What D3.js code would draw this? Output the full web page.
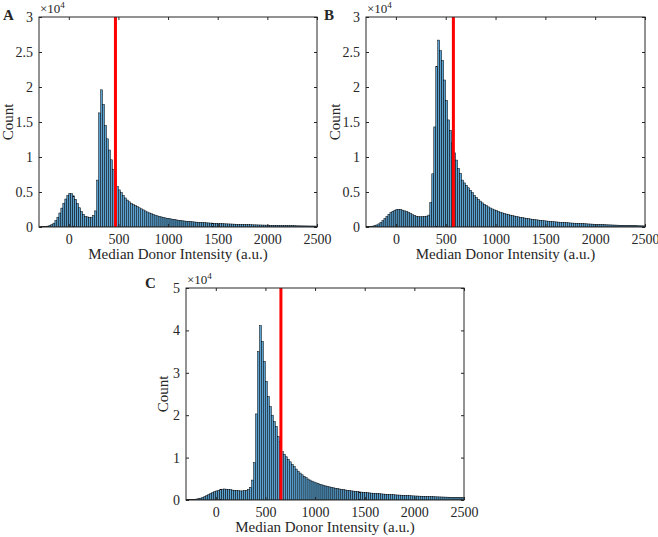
<!DOCTYPE html>
<html><head><meta charset="utf-8">
<script src="https://cdn.jsdelivr.net/npm/d3@7"></script>
<style>
body{margin:0;background:#fff}
svg{display:block}
text{font-family:"Liberation Serif","Times New Roman",serif;fill:#262626}
</style>
</head><body>
<svg id="chart" width="658" height="537"></svg>
<script>
// ---- data ----
const binWidth = 20;
const binLo = d3.range(-300, 2500, binWidth);   // bin lower edges
const xTicks = [0, 500, 1000, 1500, 2000, 2500];
const yTicksAB = [0, 5000, 10000, 15000, 20000, 25000, 30000];
const yTicksC = [0, 10000, 20000, 30000, 40000, 50000];
const panelLabels = ["A", "B", "C"];
const thresholds = [470, 577, 656];
const xTitle = "Median Donor Intensity (a.u.)";
const yTitle = "Count";

const countsA = [
 30, 40, 60, 90, 130, 200, 330, 550, 900, 1400,
 2000, 2700, 3400, 4000, 4500, 4800, 4750, 4450, 3950, 3350,
 2750, 2200, 1800, 1500, 1450, 1350, 1400, 1650, 2300, 6700,
 16300, 19600, 17500, 14500, 12600, 11000, 9600, 8200, 7000, 5800,
 5300, 4900, 4500, 4150, 3850, 3600, 3380, 3200, 3050, 2900,
 2750, 2600, 2450, 2300, 2150, 2020, 1900, 1800, 1700, 1600,
 1520, 1450, 1380, 1310, 1250, 1200, 1150, 1100, 1050, 1000,
 960, 920, 880, 850, 820, 790, 765, 740, 715, 690,
 670, 650, 630, 610, 595, 580, 565, 550, 535, 520,
 505, 490, 475, 460, 450, 440, 430, 420, 405, 395,
 385, 375, 365, 355, 345, 335, 325, 318, 310, 302,
 295, 288, 280, 272, 265, 258, 250, 243, 236, 230,
 224, 218, 212, 206, 200, 195, 190, 185, 180, 175,
 170, 165, 160, 156, 152, 148, 144, 140, 136, 132
];
const countsB = [
 40, 60, 90, 130, 200, 300, 450, 650, 900, 1200,
 1500, 1800, 2050, 2250, 2400, 2500, 2520, 2480, 2400, 2300,
 2180, 2050, 1900, 1750, 1620, 1520, 1470, 1460, 1480, 1500,
 1550, 1700, 3500, 7600, 14300, 22900, 26700, 25200, 23800, 21000,
 18100, 15300, 13800, 12000, 10600, 9560, 8370, 7660, 6700, 6300,
 5950, 5600, 5250, 4900, 4500, 4200, 3950, 3700, 3450, 3250,
 3050, 2880, 2720, 2580, 2450, 2330, 2220, 2120, 2020, 1930,
 1850, 1770, 1700, 1630, 1570, 1510, 1450, 1390, 1340, 1290,
 1240, 1190, 1150, 1110, 1070, 1030, 995, 960, 925, 890,
 860, 830, 800, 775, 750, 725, 700, 680, 660, 640,
 620, 600, 580, 560, 545, 530, 515, 500, 485, 470,
 455, 440, 425, 410, 395, 380, 368, 356, 344, 332,
 320, 310, 300, 290, 280, 270, 260, 250, 240, 232,
 224, 216, 208, 200, 192, 185, 178, 171, 164, 157
];
const countsC = [
 80, 90, 110, 140, 180, 240, 330, 450, 600, 800,
 1050, 1300, 1550, 1800, 2000, 2150, 2300, 2450, 2550, 2600,
 2550, 2500, 2450, 2350, 2300, 2250, 2200, 2150, 2150, 2200,
 2300, 2500, 3000, 4700, 8800, 20300, 35000, 41100, 37400, 32700,
 28000, 24400, 22000, 20000, 18500, 17300, 15000, 13800, 11400, 10800,
 10200, 9600, 9000, 8400, 7900, 7300, 6800, 6350, 5950, 5600,
 5250, 4950, 4700, 4450, 4250, 4050, 3880, 3720, 3570, 3430,
 3300, 3180, 3070, 2960, 2860, 2760, 2670, 2580, 2500, 2420,
 2350, 2280, 2210, 2150, 2090, 2030, 1970, 1910, 1860, 1810,
 1760, 1710, 1670, 1630, 1590, 1550, 1510, 1475, 1440, 1405,
 1370, 1335, 1300, 1270, 1240, 1210, 1185, 1160, 1135, 1110,
 1070, 1045, 1020, 995, 970, 950, 930, 910, 890, 870,
 850, 830, 810, 790, 775, 760, 745, 730, 715, 700,
 685, 670, 655, 640, 625, 610, 595, 580, 565, 550
];

// ---- layout ----
const panels = [
  {counts: countsA, yTicks: yTicksAB, left: 39,  right: 317, top: 17,  bottom: 227, yLabOff: 31, letterX: 3,   letterY: 20},
  {counts: countsB, yTicks: yTicksAB, left: 366, right: 645, top: 17,  bottom: 227, yLabOff: 31, letterX: 324, letterY: 20},
  {counts: countsC, yTicks: yTicksC,  left: 186, right: 464, top: 288, bottom: 500, yLabOff: 23, letterX: 145, letterY: 288}
];

const svg = d3.select("#chart");
const axisCol = "#262626";
const fs = 14;

panels.forEach((p, k) => {
  const x = d3.scaleLinear().domain([-300, 2500]).range([p.left, p.right]);
  const y = d3.scaleLinear().domain([0, d3.max(p.yTicks)]).range([p.bottom, p.top]);
  const g = svg.append("g");
  const clipId = "clip" + k;
  g.append("clipPath").attr("id", clipId).append("rect")
    .attr("x", p.left).attr("y", p.top).attr("width", p.right - p.left).attr("height", p.bottom - p.top);

  const bars = g.append("g").attr("clip-path", `url(#${clipId})`);
  bars.selectAll("rect").data(binLo).enter().append("rect")
    .attr("x", d => x(d))
    .attr("width", d => x(d + binWidth) - x(d))
    .attr("y", (d, i) => y(p.counts[i]))
    .attr("height", (d, i) => p.bottom - y(p.counts[i]))
    .attr("fill", "#5aa2d2")
    .attr("stroke", "#000")
    .attr("stroke-width", 0.5);

  // threshold line
  g.append("line")
    .attr("x1", x(thresholds[k])).attr("x2", x(thresholds[k]))
    .attr("y1", p.top).attr("y2", p.bottom)
    .attr("stroke", "#ff0000").attr("stroke-width", 3);

  // axes
  const fmtY = v => String(v / 1e4);
  const axB = g.append("g").attr("transform", `translate(0,${p.bottom})`)
    .call(d3.axisBottom(x).tickValues(xTicks).tickSize(-3).tickPadding(7).tickFormat(d3.format("d")));
  const axT = g.append("g").attr("transform", `translate(0,${p.top})`)
    .call(d3.axisTop(x).tickValues(xTicks).tickSize(-3).tickFormat(""));
  const axL = g.append("g").attr("transform", `translate(${p.left},0)`)
    .call(d3.axisLeft(y).tickValues(p.yTicks).tickSize(-3).tickPadding(6).tickFormat(fmtY));
  const axR = g.append("g").attr("transform", `translate(${p.right},0)`)
    .call(d3.axisRight(y).tickValues(p.yTicks).tickSize(-3).tickFormat(""));
  [axB, axT, axL, axR].forEach(a => {
    a.select(".domain").remove();
    a.selectAll("line").attr("stroke", axisCol);
    a.selectAll("text").attr("font-size", fs).attr("fill", axisCol)
      .attr("font-family", '"Liberation Serif","Times New Roman",serif');
  });

  g.append("rect").attr("x", p.left).attr("y", p.top)
    .attr("width", p.right - p.left).attr("height", p.bottom - p.top)
    .attr("fill", "none").attr("stroke", axisCol).attr("stroke-width", 1);

  // exponent
  const ex = g.append("text").attr("x", p.left + 1).attr("y", p.top - 4).attr("font-size", 13);
  ex.append("tspan").text("×10");
  ex.append("tspan").attr("font-size", 9).attr("dy", -5).text("4");

  // titles
  g.append("text").attr("x", (p.left + p.right) / 2).attr("y", p.bottom + 32)
    .attr("text-anchor", "middle").attr("font-size", 15).text(xTitle);
  g.append("text")
    .attr("transform", `translate(${p.left - p.yLabOff},${(p.top + p.bottom) / 2}) rotate(-90)`)
    .attr("text-anchor", "middle").attr("dy", "0.35em").attr("font-size", 15).text(yTitle);

  g.append("text").attr("x", p.letterX).attr("y", p.letterY)
    .attr("font-size", 15).attr("font-weight", "bold").attr("fill", "#000").text(panelLabels[k]);
});
</script>
</body></html>
